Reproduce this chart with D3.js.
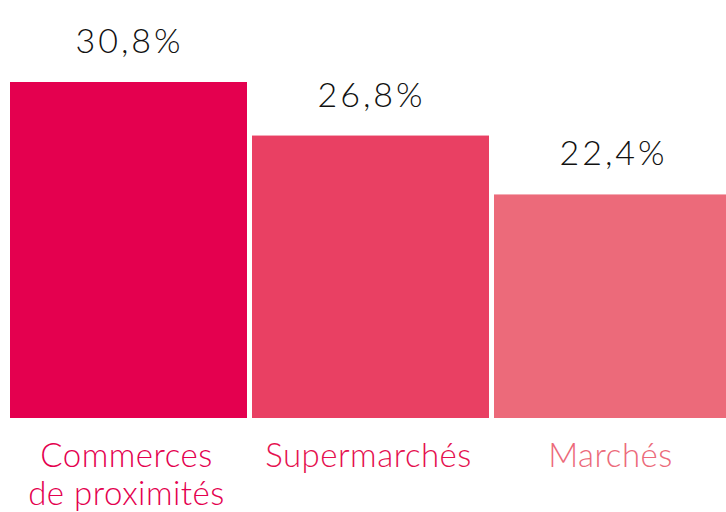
<!DOCTYPE html>
<html>
<head>
<meta charset="utf-8">
<script src="https://cdn.jsdelivr.net/npm/d3@7"></script>
<style>
  html, body { margin: 0; padding: 0; background: #fff; }
  svg { display: block; }
  text { font-family: Lato, "Open Sans", sans-serif; font-weight: 300; }
</style>
</head>
<body>
<svg id="chart" width="726" height="512"></svg>
<script>
const categories = [["Commerces", "de proximités"], ["Supermarchés"], ["Marchés"]];
const values = [30.8, 26.8, 22.4];
const valueLabels = ["30,8%", "26,8%", "22,4%"];
const barColors = ["#e4004f", "#e94063", "#ec6a7a"];
const labelColors = ["#e4004f", "#e5104f", "#ec6a7a"];

let svg = d3.select("#chart");
let baseline = 418;

let x = d3
  .scaleBand()
  .domain(d3.range(values.length))
  .range([10, 731])
  .paddingInner(5 / 242)
  .paddingOuter(0);

// the source picture does not start its bars at zero, so the domain is fitted
let y = d3
  .scaleLinear()
  .domain([5.7, 30.8])
  .range([baseline, 82]);

svg
  .selectAll(".bar")
  .data(values)
  .enter()
  .append("rect")
  .attr("class", "bar")
  .attr("x", (d, i) => x(i))
  .attr("width", x.bandwidth())
  .attr("y", (d) => y(d))
  .attr("height", (d) => baseline - y(d))
  .attr("fill", (d, i) => barColors[i]);

svg
  .selectAll(".value")
  .data(values)
  .enter()
  .append("text")
  .attr("class", "value")
  .attr("x", (d, i) => x(i) + x.bandwidth() / 2 + 1)
  .attr("y", (d) => y(d) - 29)
  .attr("text-anchor", "middle")
  .attr("font-size", 34)
  .attr("letter-spacing", 3)
  .attr("fill", "#111")
  .text((d, i) => valueLabels[i]);

let cats = svg
  .selectAll(".cat")
  .data(categories)
  .enter()
  .append("text")
  .attr("class", "cat")
  .attr("text-anchor", "middle")
  .attr("font-size", 33)
  .attr("letter-spacing", 0.5)
  .attr("fill", (d, i) => labelColors[i])
  .attr("transform", (d, i) => `translate(${x(i) + x.bandwidth() / 2 - 2},${baseline + 49})`);

cats
  .selectAll("tspan")
  .data((d) => d)
  .enter()
  .append("tspan")
  .attr("x", 0)
  .attr("dy", (d, j) => (j === 0 ? 0 : 38))
  .text((d) => d);
</script>
</body>
</html>
